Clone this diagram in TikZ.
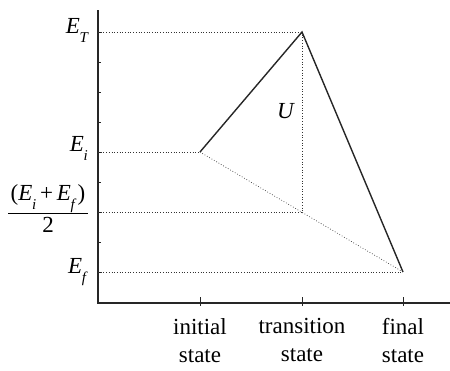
\documentclass[tikz,border=0pt]{standalone}
\usepackage{fontspec}
\setmainfont{Liberation Serif}
\newcommand\Esub[1]{\textit{E}\kern-0.3pt\raisebox{-0.42em}{\fontsize{15}{15}\selectfont\textit{#1}}}
\begin{document}
\begin{tikzpicture}[x=1pt,y=-1pt,
  lbl/.style={font=\fontsize{23}{28}\selectfont, inner sep=0pt},
  solidline/.style={line width=1.4pt, draw=black!85},
  dotline/.style={line width=0.7pt, dotted, draw=black!80},
  axisline/.style={line width=1.1pt, draw=black!85},
  tick/.style={line width=0.9pt, draw=black!85}]
\useasboundingbox (0,0) rectangle (450,370);
% axes
\coordinate (ytop) at (98,10);
\coordinate (origin) at (98,303);
\coordinate (xend) at (450,303);
\draw[axisline] (ytop) -- (origin) -- (xend);
% y ticks
\foreach \y in {32,62,92,122,152,182,212,242,272}
  \draw[tick] (98,\y) -- (101,\y);
% points
\coordinate (I) at (200,152);
\coordinate (T) at (302,32);
\coordinate (F) at (403,272);
\coordinate (M) at (302,212);
\coordinate (aT) at (98,32);
\coordinate (aI) at (98,152);
\coordinate (aM) at (98,212);
\coordinate (aF) at (98,272);
% x ticks
\foreach \x in {200,302,403}
  \draw[tick] (\x,297) -- (\x,306);
% dotted guide lines
\draw[dotline] (aT) -- (T);
\draw[dotline] (aI) -- (I);
\draw[dotline] (aM) -- (M);
\draw[dotline] (aF) -- (F);
\draw[dotline] (T) -- (M);
\draw[dotline] (I) -- (F);
% solid path
\draw[solidline] (I) -- (T) -- (F);
% labels
\node[lbl, anchor=base east] (lET) at (89,33) {\Esub{T}};
\node[lbl, anchor=base east] (lEi) at (88,151) {\Esub{i}};
\node[lbl, anchor=base east] (lEf) at (88,273) {\Esub{f}};
% fraction
\node[lbl, anchor=base] (num) at (48,200) {(\Esub{i}\,+\,\Esub{f}\kern1pt)};
\coordinate (barL) at (8,213);
\coordinate (barR) at (88,213);
\draw[line width=1pt] (barL) -- (barR);
\node[lbl, anchor=base] (den) at (48,232) {2};
\node[lbl, anchor=base] (lU) at (286,118) {\textit{U}};
\node[lbl, align=center, anchor=north] (xi) at (200,318) {initial\\state};
\node[lbl, align=center, anchor=north] (xt) at (302,318) {transition\\state};
\node[lbl, align=center, anchor=north] (xf) at (403,318) {final\\state};
\end{tikzpicture}
\end{document}
